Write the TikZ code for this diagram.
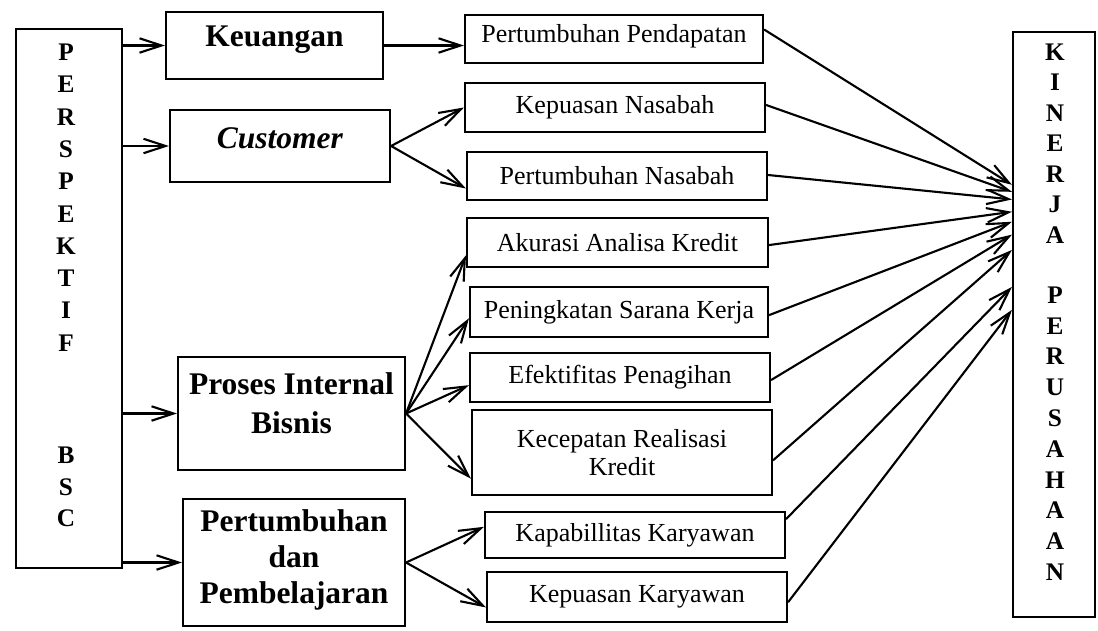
\documentclass[tikz,border=0pt]{standalone}
\usepackage{fontspec}
\setmainfont{Liberation Serif}
\usetikzlibrary{arrows.meta,calc}

\begin{document}
\begin{tikzpicture}[x=0.25mm,y=-0.25mm,>={Straight Barb[length=5.5mm,width=3.6mm]},
  kotak/.style={draw,line width=1.5pt,inner sep=0pt,align=center},
  ukuran/.style 2 args={minimum width=#1*0.25mm,minimum height=#2*0.25mm},
  besar/.style={kotak,font=\fontsize{22.4}{25.5}\selectfont\bfseries},
  kecil/.style={kotak,font=\fontsize{18.5}{20}\selectfont},
  huruf/.style={font=\fontsize{18}{20}\selectfont\bfseries},
  panah/.style={->,line width=1.5pt}]

\useasboundingbox (0,0) rectangle (1098,630);

% --- Kotak kiri: Perspektif BSC ---
\node[kotak,ukuran={106}{539}] (bsc) at (69,298.5) {};
\foreach \h/\y in {P/52,E/84,R/117,S/149,P/181,E/214,K/246,T/278,I/310,F/343,B/455,S/487,C/518}
  \node[huruf] (b\y) at (66,\y) {\h};

% --- Empat perspektif ---
\node[besar,ukuran={217}{67},text depth=13pt] (keu) at (274.5,45.5) {Keuangan};
\node[besar,ukuran={220}{72},text depth=11pt] (cus) at (280,146) {\textit{Customer}};
\node[besar,ukuran={227}{113},text depth=15pt] (pro) at (291.5,413.5) {Proses Internal\\[2pt]Bisnis};
\node[besar,ukuran={222}{127},text depth=8pt] (pdp) at (294,562.5) {Pertumbuhan\\dan\\Pembelajaran};

% --- Indikator ---
\node[kecil,ukuran={298}{48},text depth=8pt] (pp) at (614,39) {Pertumbuhan Pendapatan};
\node[kecil,ukuran={300}{49}] (kn) at (615,107.5) {Kepuasan Nasabah};
\node[kecil,ukuran={300}{48}] (pn) at (617,176) {Pertumbuhan Nasabah};
\node[kecil,ukuran={301}{49}] (ak) at (617.5,242.5) {Akurasi Analisa Kredit};
\node[kecil,ukuran={298}{50}] (ps) at (619,312) {Peningkatan Sarana Kerja};
\node[kecil,ukuran={300}{49}] (ef) at (620,377.5) {Efektifitas Penagihan};
\node[kecil,ukuran={300}{85}] (kr) at (622,452.5) {Kecepatan Realisasi\\Kredit};
\node[kecil,ukuran={300}{46}] (kk) at (635,535) {Kapabillitas Karyawan};
\node[kecil,ukuran={300}{50}] (kw) at (637,597) {Kepuasan Karyawan};

% --- Kotak kanan: Kinerja Perusahaan ---
\node[kotak,ukuran={82}{585}] (kp) at (1054,324.5) {};
\foreach \h/\y in {K/52,I/82,N/113,E/143,R/174,J/204,A/235,P/295,E/326,R/356,U/387,S/418,A/449,H/480,A/510,A/541,N/572}
  \node[huruf] (k\y) at (1055,\y) {\h};

% panah dari BSC
\foreach \t in {keu,cus,pro,pdp}
  \draw[panah] (bsc.east |- \t.west) -- (\t.west);

% panah ke indikator
\draw[panah] (keu.east) -- (keu.east -| pp.west);
\draw[panah] (cus.east) -- (kn.west);
\draw[panah] (cus.east) -- ($(pn.north west)!0.75!(pn.south west)$);
\foreach \t/\fr in {ak/0.75,ps/0.62,ef/0.65,kr/0.8}
  \draw[panah] (pro.east) -- ($(\t.north west)!\fr!(\t.south west)$);
\foreach \t/\fr in {kk/0.33,kw/0.7}
  \draw[panah] (pdp.east) -- ($(\t.north west)!\fr!(\t.south west)$);

% panah ke kinerja
\foreach \s/\fa/\fb in {pp/0.31/0.262,kn/0.45/0.274,pn/0.48/0.287,ak/0.55/0.308,ps/0.56/0.325,ef/0.55/0.347,kr/0.59/0.373,kk/0.17/0.436,kw/0.6/0.475}
  \draw[panah] ($(\s.north east)!\fa!(\s.south east)$) -- ($(kp.north west)!\fb!(kp.south west)$);

\end{tikzpicture}
\end{document}
